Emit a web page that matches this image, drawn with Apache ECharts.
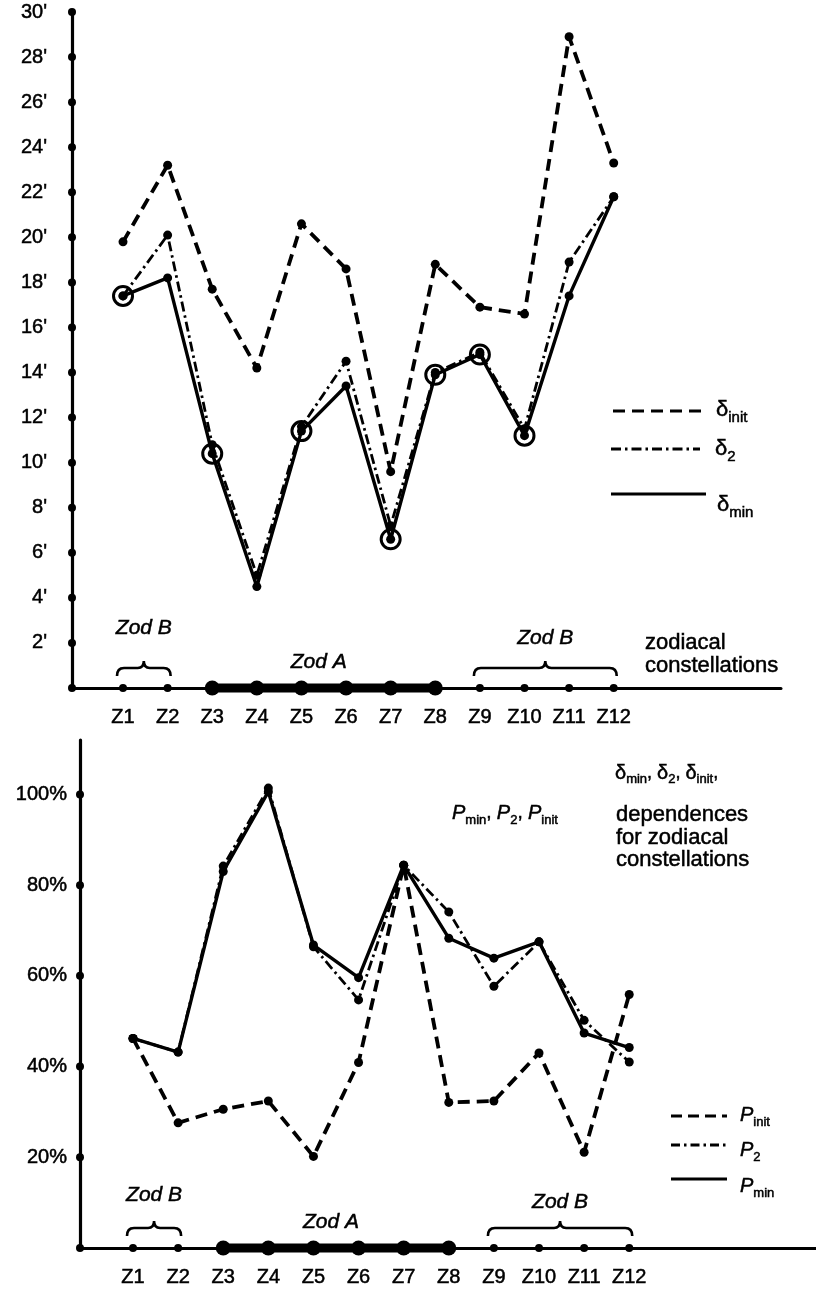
<!DOCTYPE html>
<html>
<head>
<meta charset="utf-8">
<script src="https://cdn.jsdelivr.net/npm/echarts@6/dist/echarts.min.js"></script>
<style>
  html, body { margin: 0; padding: 0; background: #fff; }
  #chart { width: 816px; height: 1289px; }
</style>
</head>
<body>
<div id="chart"></div>
<script>
// Zodiacal constellations along the horizontal axis
const constellations = ['Z1', 'Z2', 'Z3', 'Z4', 'Z5', 'Z6', 'Z7', 'Z8', 'Z9', 'Z10', 'Z11', 'Z12'];

// Tick values of the two vertical axes (arc minutes, percent)
const minuteTicks = [2, 4, 6, 8, 10, 12, 14, 16, 18, 20, 22, 24, 26, 28, 30];
const percentTicks = [20, 40, 60, 80, 100];

// Upper panel: delta values in arc minutes
const deltaInit = [19.8, 23.2, 17.7, 14.2, 20.6, 18.6, 9.6, 18.8, 16.9, 16.6, 28.9, 23.3];
const delta2    = [17.4, 20.1, 10.8, 5.0, 11.6, 14.5, 7.2, 14.0, 14.9, 11.5, 18.9, 21.8];
const deltaMin  = [17.4, 18.2, 10.4, 4.5, 11.4, 13.4, 6.6, 13.9, 14.8, 11.2, 17.4, 21.8];
// delta_min points that are ringed
const ringed = ['Z1', 'Z3', 'Z5', 'Z7', 'Z8', 'Z9', 'Z10'];

// Lower panel: P values in percent
const pInit = [46.2, 27.6, 30.6, 32.4, 20.2, 40.9, 84.4, 32.1, 32.4, 43.0, 21.1, 55.9];
const p2    = [46.2, 43.2, 84.2, 101.4, 66.4, 54.7, 84.4, 74.1, 57.7, 67.5, 50.2, 41.0];
const pMin  = [46.2, 43.2, 83.0, 100.6, 66.8, 59.6, 84.4, 68.3, 63.9, 67.5, 47.4, 44.2];

// Constellation groups
const zodA = ['Z3', 'Z4', 'Z5', 'Z6', 'Z7', 'Z8'];
const zodB = ['Z1', 'Z2', 'Z9', 'Z10', 'Z11', 'Z12'];
const zodBGroups = [['Z1', 'Z2'], ['Z9', 'Z12']];

const FONT = "'Liberation Sans', Arial, Helvetica, sans-serif";
const INK = '#000';
const HEAVY = 0.5; // slight stroke to give the print-like weight to text

const pos = name => constellations.indexOf(name) + 1;
const pairs = arr => arr.map((v, i) => [i + 1, v]);

// axis extents (value units along the constellation axis)
const X_TOP = { min: -0.1435, max: 15.75 };
const X_BOT = { min: -0.175, max: 16.14 };

const chart = echarts.init(document.getElementById('chart'), null, { renderer: 'canvas' });

function xAxisFor(grid, ext) {
  return {
    gridIndex: grid, type: 'value', min: ext.min, max: ext.max,
    axisLine: { show: true, onZero: false, lineStyle: { color: INK, width: 3 } },
    axisTick: { show: false },
    splitLine: { show: false },
    axisLabel: {
      customValues: constellations.map(pos),
      formatter: v => constellations[Math.round(v) - 1] || '',
      color: INK, fontSize: 20, fontFamily: FONT, margin: 19,
      textBorderColor: INK, textBorderWidth: HEAVY
    }
  };
}

function yAxisFor(grid, max, interval, fmt, margin) {
  return {
    gridIndex: grid, type: 'value', min: 0, max: max, interval: interval,
    axisLine: { show: true, onZero: false, lineStyle: { color: INK, width: 3.2 } },
    axisTick: { show: false },
    splitLine: { show: false },
    axisLabel: {
      formatter: fmt, color: INK, fontSize: 20, fontFamily: FONT, margin: margin,
      textBorderColor: INK, textBorderWidth: HEAVY
    }
  };
}

function lineSeries(grid, data, width, dash) {
  return {
    type: 'line', xAxisIndex: grid, yAxisIndex: grid,
    data: pairs(data),
    symbol: 'circle', symbolSize: 9,
    itemStyle: { color: INK, opacity: 1 },
    lineStyle: { color: INK, width: width, type: dash },
    clip: false, z: 5
  };
}

// axis decorations: dots on the ticks and the thick Zod A band
function axisMarks(grid, ext, ticks) {
  return [
    {
      type: 'scatter', xAxisIndex: grid, yAxisIndex: grid,
      data: [[ext.min, 0]].concat(ticks.map(t => [ext.min, t])),
      symbol: 'circle', symbolSize: 8, itemStyle: { color: INK, opacity: 1 }, clip: false, z: 6
    },
    {
      type: 'scatter', xAxisIndex: grid, yAxisIndex: grid,
      data: zodB.map(n => [pos(n), 0]),
      symbol: 'circle', symbolSize: 8, itemStyle: { color: INK, opacity: 1 }, clip: false, z: 6
    },
    {
      type: 'line', xAxisIndex: grid, yAxisIndex: grid,
      data: zodA.map(n => [pos(n), 0]),
      symbol: 'circle', symbolSize: 15,
      itemStyle: { color: INK, opacity: 1 },
      lineStyle: { color: INK, width: 9 },
      clip: false, z: 6
    }
  ];
}

// curly braces with their "Zod B" captions, and the "Zod A" caption
function groupSeries(grid, braceLift, captionLifts, aLift) {
  return [
    {
      type: 'custom', xAxisIndex: grid, yAxisIndex: grid,
      data: zodBGroups.map(g => [pos(g[0]), pos(g[1])]),
      clip: false, z: 7,
      renderItem: (params, api) => {
        const a = api.coord([api.value(0), 0]);
        const b = api.coord([api.value(1), 0]);
        const x0 = a[0] - 6, x1 = b[0] + 3, y = a[1] - braceLift, m = (x0 + x1) / 2, h = 8;
        const d = `M${x0},${y + h} Q${x0},${y} ${x0 + 7},${y} L${m - 6},${y} Q${m},${y} ${m},${y - h + 1}` +
                  ` Q${m},${y} ${m + 6},${y} L${x1 - 7},${y} Q${x1},${y} ${x1},${y + h}`;
        return {
          type: 'group',
          children: [
            { type: 'path', shape: { pathData: d }, style: { stroke: INK, fill: null, lineWidth: 2.6 } },
            {
              type: 'text',
              style: {
                text: 'Zod B', x: m, y: a[1] - captionLifts[params.dataIndex],
                align: 'center', verticalAlign: 'middle',
                font: `italic 21px ${FONT}`, fill: INK, stroke: INK, lineWidth: HEAVY
              }
            }
          ]
        };
      }
    },
    {
      type: 'custom', xAxisIndex: grid, yAxisIndex: grid,
      data: [[pos(zodA[0]), pos(zodA[zodA.length - 1])]],
      clip: false, z: 7,
      renderItem: (params, api) => {
        const a = api.coord([api.value(0), 0]);
        const b = api.coord([api.value(1), 0]);
        return {
          type: 'text',
          style: {
            text: 'Zod A', x: (a[0] + b[0]) / 2 - 5, y: a[1] - aLift,
            align: 'center', verticalAlign: 'middle',
            font: `italic 21px ${FONT}`, fill: INK, stroke: INK, lineWidth: HEAVY
          }
        };
      }
    }
  ];
}

// legend keys and annotation texts
function richText(x, y, text, rich) {
  return {
    type: 'text', x: x, y: y, z: 10,
    style: {
      text: text, rich: rich, fill: INK,
      align: 'left', verticalAlign: 'middle', textAlign: 'left', textVerticalAlign: 'middle',
      font: `20px ${FONT}`
    }
  };
}

function richStyle(size, extra) {
  return Object.assign({ fontSize: size, fontFamily: FONT, fill: INK, stroke: INK, lineWidth: HEAVY }, extra);
}

const deltaRich = {
  m: richStyle(22, { lineHeight: 22 }),
  s: richStyle(15, { lineHeight: 14, verticalAlign: 'bottom', padding: [0, 0, -4, 0] }),
  c: richStyle(19, { lineHeight: 22 })
};
const pRich = {
  m: richStyle(20, { fontStyle: 'italic', lineHeight: 22 }),
  s: richStyle(13, { lineHeight: 12, verticalAlign: 'bottom', padding: [0, 0, -3, 0] }),
  c: richStyle(19, { lineHeight: 22 })
};
const smallDeltaRich = {
  m: richStyle(20, { lineHeight: 20 }),
  s: richStyle(13, { lineHeight: 11, verticalAlign: 'bottom', padding: [0, 0, -3, 0] }),
  c: richStyle(18, { lineHeight: 20 })
};

function keyLine(x1, x2, y, width, dash) {
  return {
    type: 'line', z: 10,
    shape: { x1: x1, y1: y, x2: x2, y2: y },
    style: { stroke: INK, lineWidth: width, lineDash: dash }
  };
}

function plainText(x, y, text, lineHeight) {
  return {
    type: 'text', x: x, y: y, z: 10,
    style: { text: text, font: `22px ${FONT}`, lineHeight: lineHeight, fill: INK, stroke: INK, lineWidth: HEAVY,
             align: 'left', verticalAlign: 'top', textAlign: 'left', textVerticalAlign: 'top' }
  };
}

const graphics = [
  // upper panel key
  keyLine(613, 705, 411, 3.2, [12, 7]),
  richText(716, 410, '{m|δ}{s|init}', deltaRich),
  keyLine(611, 700, 449, 2.8, [10, 4, 2.5, 4]),
  richText(715, 449, '{m|δ}{s|2}', deltaRich),
  keyLine(611, 706, 494, 3.2, null),
  richText(717, 505, '{m|δ}{s|min}', deltaRich),
  // upper panel axis caption
  plainText(645, 631, 'zodiacal\nconstellations', 23),
  // lower panel annotations
  richText(615, 773, '{m|δ}{s|min}{c|, }{m|δ}{s|2}{c|, }{m|δ}{s|init}{c|,}', smallDeltaRich),
  richText(452, 813, '{m|P}{s|min}{c|, }{m|P}{s|2}{c|, }{m|P}{s|init}', pRich),
  plainText(616, 804, 'dependences\nfor zodiacal\nconstellations', 22.5),
  // lower panel key
  keyLine(671, 727, 1116, 3.2, [11, 6]),
  richText(740, 1115, '{m|P}{s|init}', pRich),
  keyLine(671, 727, 1145, 2.8, [9, 4, 2.5, 4]),
  richText(740, 1150, '{m|P}{s|2}', pRich),
  keyLine(671, 727, 1179, 3.2, null),
  richText(740, 1186, '{m|P}{s|min}', pRich)
];

const option = {
  animation: false,
  backgroundColor: '#fff',
  grid: [
    { left: 72, top: 12, width: 709, height: 676 },
    { left: 80, top: 740, width: 736, height: 508 }
  ],
  xAxis: [xAxisFor(0, X_TOP), xAxisFor(1, X_BOT)],
  yAxis: [
    yAxisFor(0, 30, 2, v => (v === 0 ? '' : v + "'"), 25),
    yAxisFor(1, 112, 20, v => (v > 0 && v <= 100 && v % 20 === 0 ? v + '%' : ''), 13)
  ],
  series: [
    lineSeries(0, deltaInit, 3.8, [12, 7]),
    lineSeries(0, delta2, 2.8, [10, 4, 2.5, 4]),
    lineSeries(0, deltaMin, 3.4, 'solid'),
    {
      type: 'scatter', xAxisIndex: 0, yAxisIndex: 0,
      data: ringed.map(n => [pos(n), deltaMin[pos(n) - 1]]),
      symbol: 'circle', symbolSize: 19,
      itemStyle: { color: 'rgba(0,0,0,0)', borderColor: INK, borderWidth: 3, opacity: 1 },
      clip: false, z: 6
    },
    ...axisMarks(0, X_TOP, minuteTicks),
    ...groupSeries(0, 20, [60, 50], 26),

    lineSeries(1, pInit, 3.8, [12, 7]),
    lineSeries(1, p2, 2.8, [10, 4, 2.5, 4]),
    lineSeries(1, pMin, 3.4, 'solid'),
    ...axisMarks(1, X_BOT, percentTicks),
    ...groupSeries(1, 20, [53, 46], 26)
  ],
  graphic: graphics
};

chart.setOption(option);
</script>
</body>
</html>
